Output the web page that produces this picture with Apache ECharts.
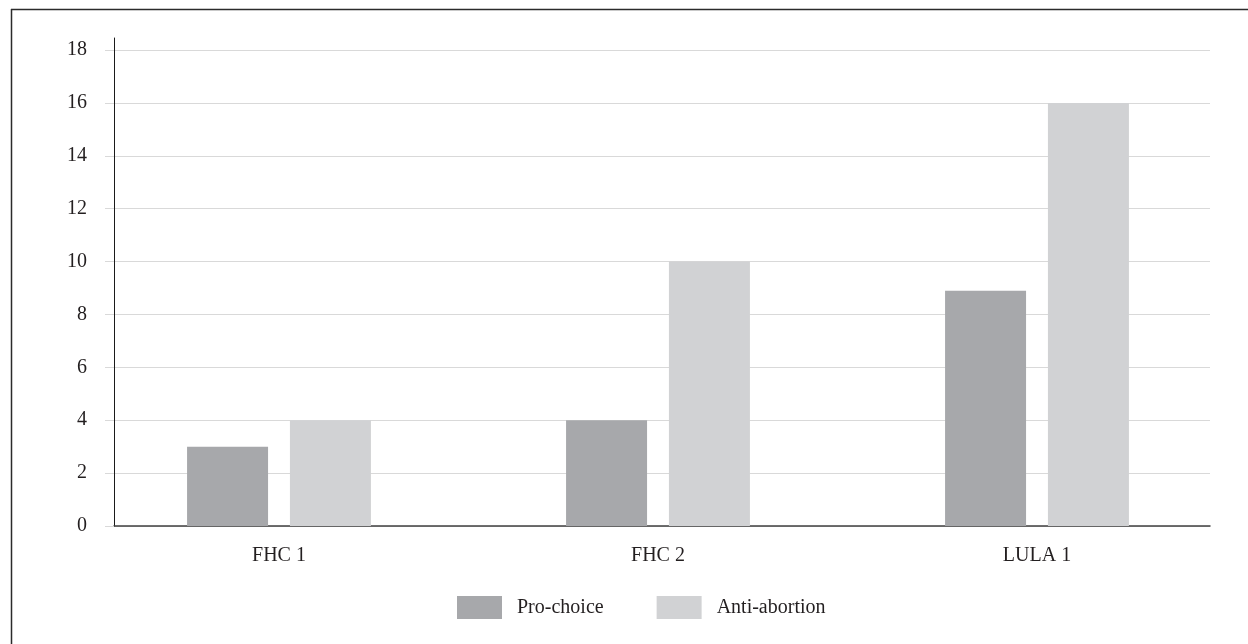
<!DOCTYPE html>
<html>
<head>
<meta charset="utf-8">
<script src="https://cdn.jsdelivr.net/npm/echarts@6/dist/echarts.min.js"></script>
<style>
html,body{margin:0;padding:0;background:#fff;}
#chart{width:1248px;height:644px;}
</style>
</head>
<body>
<div id="chart"></div>
<script>
const categories = ['FHC 1', 'FHC 2', 'LULA 1'];
const proChoice = [3, 4, 8.9];
const antiAbortion = [4, 10, 16];
const yTicks = { min: 0, max: 18, interval: 2 };

const FONT = '"Liberation Serif", "DejaVu Serif", serif';
const TXT = '#231f20';

const chart = echarts.init(document.getElementById('chart'));
chart.setOption({
  animation: false,
  backgroundColor: '#ffffff',
  textStyle: { fontFamily: FONT },
  graphic: [
    { type: 'line', shape: { x1: 11, y1: 9.5, x2: 1248, y2: 9.5 }, style: { stroke: '#2b2b2b', lineWidth: 1.5 } },
    { type: 'line', shape: { x1: 11.5, y1: 9, x2: 11.5, y2: 644 }, style: { stroke: '#2b2b2b', lineWidth: 1.5 } }
  ],
  legend: {
    left: 457,
    top: 596,
    padding: 0,
    itemWidth: 45,
    itemHeight: 23,
    itemGap: 53,
    icon: 'rect',
    data: ['Pro-choice', 'Anti-abortion'],
    textStyle: { fontFamily: FONT, fontSize: 20, color: TXT, padding: [0, 0, 0, 10] }
  },
  grid: [
    { left: 114, right: 38, top: 50, bottom: 118 },
    { left: 89.5, right: 21.5, top: 50, bottom: 118 },
    { left: 114, right: 38, top: 38, bottom: 118 }
  ],
  xAxis: [
    {
      gridIndex: 0, type: 'category', data: categories,
      axisLine: { show: true, lineStyle: { color: '#404040', width: 1.5 } },
      axisTick: { show: false }, axisLabel: { show: false }, splitLine: { show: false }
    },
    {
      gridIndex: 1, type: 'category', data: categories,
      axisLine: { show: false }, axisTick: { show: false },
      axisLabel: { show: true, margin: 20, fontFamily: FONT, fontSize: 20, color: TXT }
    },
    {
      gridIndex: 2, type: 'category', data: categories, show: false
    }
  ],
  yAxis: [
    {
      gridIndex: 0, type: 'value', min: yTicks.min, max: yTicks.max, interval: yTicks.interval,
      axisLine: { show: false },
      axisTick: { show: true, length: 9, lineStyle: { color: '#d9d9d9', width: 1 } },
      axisLabel: { margin: 27, fontFamily: FONT, fontSize: 20, color: TXT },
      splitLine: { show: true, lineStyle: { color: '#d9d9d9', width: 1 } }
    },
    {
      gridIndex: 1, type: 'value', min: yTicks.min, max: yTicks.max, interval: yTicks.interval, show: false
    },
    {
      gridIndex: 2, type: 'value', min: 0, max: 1,
      axisLine: { show: true, lineStyle: { color: '#1a1a1a', width: 1 } },
      axisTick: { show: false }, axisLabel: { show: false }, splitLine: { show: false }
    }
  ],
  series: [
    {
      name: 'Pro-choice', type: 'bar', xAxisIndex: 1, yAxisIndex: 1,
      data: proChoice, barWidth: 81, barGap: '27%',
      itemStyle: { color: '#a7a8ab' }
    },
    {
      name: 'Anti-abortion', type: 'bar', xAxisIndex: 1, yAxisIndex: 1,
      data: antiAbortion, barWidth: 81, barGap: '27%',
      itemStyle: { color: '#d1d2d4' }
    }
  ]
});
</script>
</body>
</html>
